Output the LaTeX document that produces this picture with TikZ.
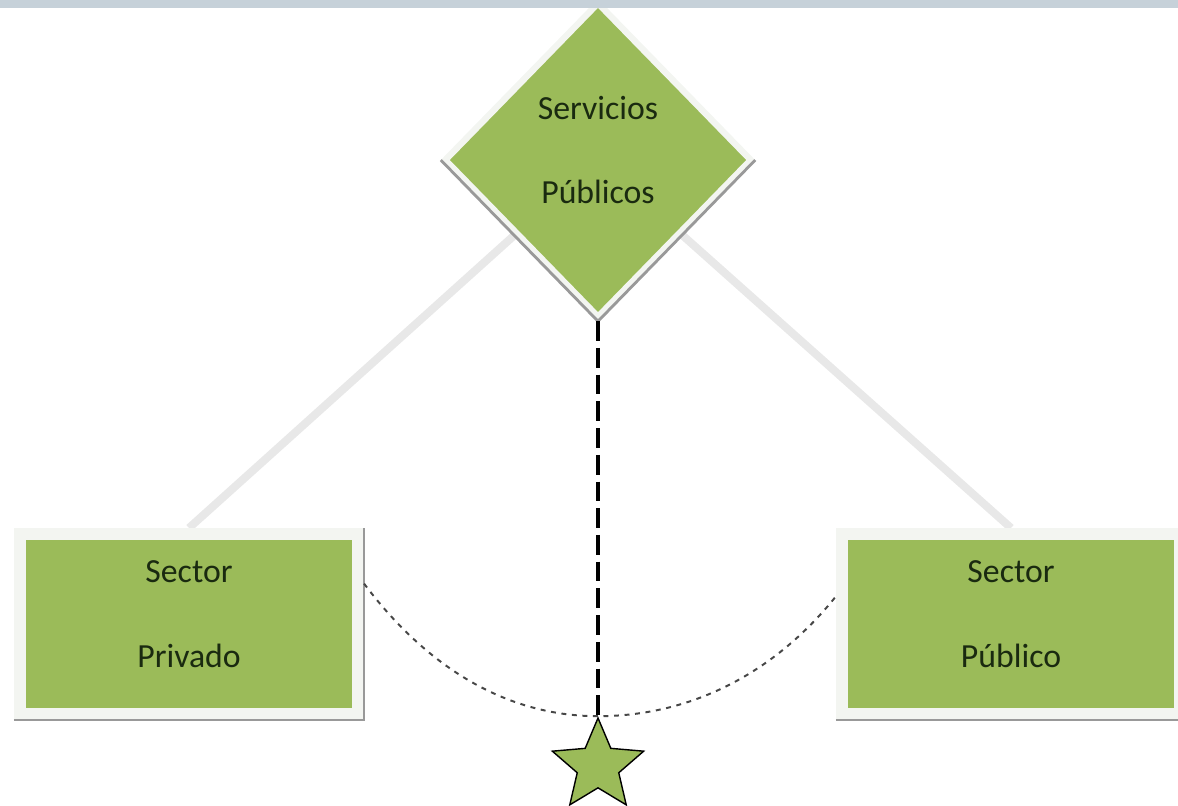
\documentclass[tikz,border=0pt]{standalone}
\usepackage{fontspec}
\setmainfont{Carlito}
\usetikzlibrary{shapes.geometric,backgrounds}
\definecolor{leaf}{HTML}{9BBB59}
\definecolor{leaftext}{HTML}{1A2A10}
\definecolor{rim}{HTML}{F3F5F1}
\definecolor{band}{HTML}{C6D1D9}
\colorlet{faint}{black!9}
\colorlet{edgegrey}{black!40}
\newcommand{\textdiam}{Servicios\\Públicos}
\newcommand{\textpriv}{Sector\\Privado}
\newcommand{\textpub}{Sector\\Público}

\begin{document}
\begin{tikzpicture}[x=0.025cm,y=-0.025cm,
    any/.style={fill=leaf,draw=rim,line width=0.3cm,text=leaftext,text depth=0.5cm,
                align=center,inner sep=0pt,font=\fontsize{24}{60}\selectfont},
    sectorbox/.style={any,rectangle,minimum width=8.45cm,minimum height=4.5cm},
    hub/.style={any,diamond,line width=0.16cm,minimum width=7.7cm,minimum height=7.9cm},
    shadeline/.style={draw=edgegrey,line width=2pt},
    tie/.style={draw=faint,line width=0.2cm},
    axis/.style={draw=black,line width=2.8pt,dash pattern=on 14pt off 5pt},
    swing/.style={draw=black!72,line width=1.4pt,dash pattern=on 3.5pt off 4pt}
]
\clip (0,0) rectangle (1178,805);

\node[hub] (serv) at (598,160) {\textdiam};
\node[sectorbox] (priv) at (189,624) {\textpriv};
\node[sectorbox] (pub) at (1011,624) {\textpub};
\node[star,star points=5,star point ratio=2.2,minimum size=2.4cm,inner sep=0pt,
      fill=leaf,draw=black,line width=1pt] (goal) at (598,766) {};

% shadows under the boxes
\draw[shadeline] (serv.west) -- (serv.south) -- (serv.east);
\draw[shadeline] (priv.south west) -- (priv.south east) -- (priv.north east);
\draw[shadeline] (pub.south west) -- (pub.south east) -- (pub.north east);

\begin{scope}[on background layer]
\draw[tie] (serv.center) -- (priv.north);
\draw[tie] (serv.center) -- (pub.north);
\end{scope}

\draw[axis] (serv.south) -- (goal.north);
\draw[swing] (priv.13) .. controls +(60,80) and +(-95,0) .. (goal.north)
             .. controls +(95,0) and +(-60,75) .. (pub.171);

\fill[band] (0,0) rectangle (1178,8);
\end{tikzpicture}
\end{document}
